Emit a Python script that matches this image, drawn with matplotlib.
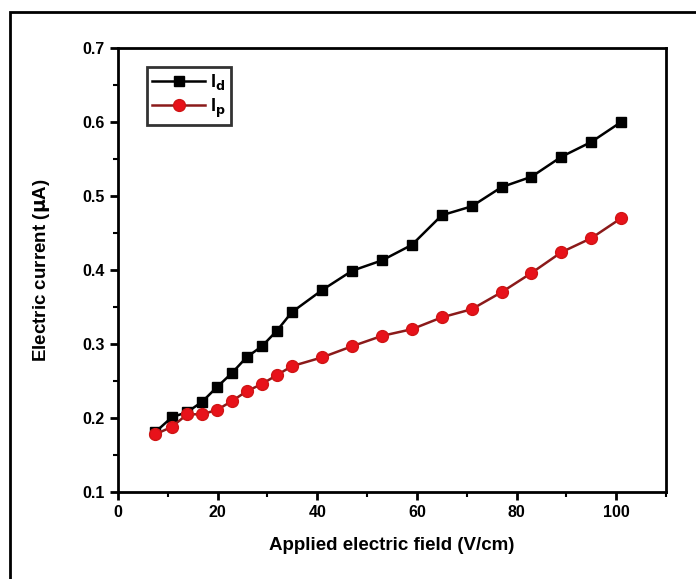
import matplotlib
matplotlib.use('Agg')
from matplotlib import pyplot as plt
from matplotlib.patches import Rectangle
from matplotlib.ticker import MultipleLocator

plt.rcParams['font.family'] = ['Liberation Sans', 'DejaVu Sans']
plt.rcParams['font.weight'] = 'bold'

field = [7.5, 10.8, 13.9, 16.9, 19.9, 22.9, 25.8, 28.9, 31.9, 34.9,
         41, 47, 53, 59, 65, 71, 77, 83, 89, 95, 101]
current_d = [0.181, 0.201, 0.208, 0.222, 0.242, 0.261, 0.282, 0.297, 0.318, 0.343,
             0.373, 0.399, 0.413, 0.434, 0.474, 0.486, 0.512, 0.526, 0.553, 0.573, 0.600]
current_p = [0.178, 0.188, 0.205, 0.205, 0.211, 0.223, 0.236, 0.246, 0.258, 0.270,
             0.282, 0.297, 0.311, 0.320, 0.336, 0.347, 0.370, 0.396, 0.424, 0.443, 0.470]

fig = plt.figure(figsize=(6.96, 5.79), dpi=100)
ax = fig.add_axes([118 / 696, 1 - 492 / 579, 548 / 696, 444 / 579])

# outer frame, cropped at right and bottom like the scan
fig.patches.append(Rectangle((10 / 696, -0.1), 1.2, 1.1 - 12 / 579,
                             transform=fig.transFigure, fill=False,
                             edgecolor='black', linewidth=2))

ax.plot(field, current_d, color='black', linewidth=1.8, marker='s',
        markersize=7, markerfacecolor='black', markeredgecolor='black',
        label='I$_\\mathbf{d}$')
ax.plot(field, current_p, color='#8b1a1a', linewidth=1.8, marker='o',
        markersize=8.5, markerfacecolor='#e8121a', markeredgecolor='#d01515',
        label='I$_\\mathbf{p}$')

ax.set_xlim(0, 110)
ax.set_ylim(0.1, 0.7)
ax.xaxis.set_minor_locator(MultipleLocator(10))
ax.yaxis.set_minor_locator(MultipleLocator(0.05))
ax.set_xticks([0, 20, 40, 60, 80, 100])
ax.set_yticks([0.1, 0.2, 0.3, 0.4, 0.5, 0.6, 0.7])

for s in ax.spines.values():
    s.set_linewidth(2)
ax.tick_params(which='major', direction='out', length=6, width=2,
               labelsize=11.5, top=False, right=False)
ax.tick_params(which='minor', direction='out', length=3.5, width=1.5,
               top=False, right=False)
for lab in ax.get_xticklabels() + ax.get_yticklabels():
    lab.set_fontweight('bold')

ax.set_xlabel('Applied electric field (V/cm)', fontsize=13.5, fontweight='bold', labelpad=12)
ax.set_ylabel('Electric current ($\\mathbf{\\mu}$A)', fontsize=13.5, fontweight='bold', labelpad=22)

leg = ax.legend(loc='upper left', bbox_to_anchor=(0.053, 0.958), borderaxespad=0,
                frameon=True, fancybox=False, edgecolor='black', handlelength=2.9,
                handletextpad=0.3, borderpad=0.3, labelspacing=0.25,
                prop={'weight': 'bold', 'size': 13})
leg.get_frame().set_linewidth(2)

fig.savefig('out.png', dpi=100)
